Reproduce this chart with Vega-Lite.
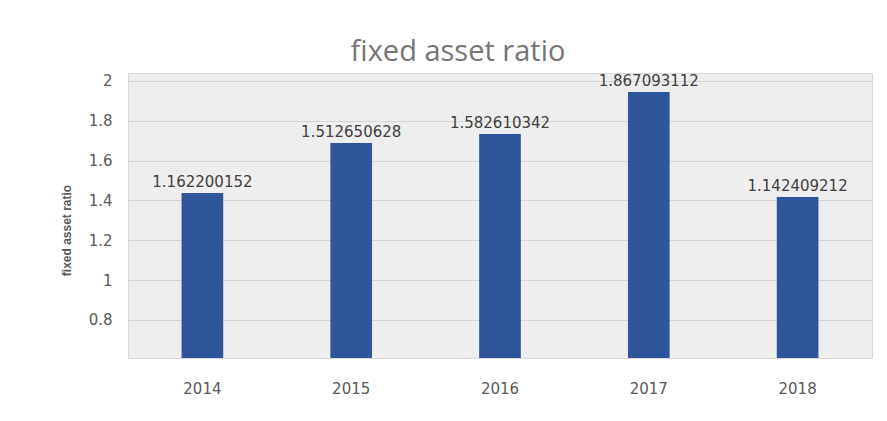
{
  "$schema": "https://vega.github.io/schema/vega-lite/v6.json",
  "autosize": {"type": "none"},
  "padding": {"left": 128, "top": 73, "right": 15, "bottom": 63},
  "width": 744,
  "height": 285,
  "background": "white",
  "title": {
    "text": "fixed asset ratio",
    "font": "Open Sans",
    "fontSize": 29,
    "fontWeight": "normal",
    "color": "#767676",
    "anchor": "middle",
    "dx": -42,
    "offset": 6
  },
  "data": {
    "values": [
      {"year": "2014", "value": 1.437, "label": "1.162200152"},
      {"year": "2015", "value": 1.688, "label": "1.512650628"},
      {"year": "2016", "value": 1.734, "label": "1.582610342"},
      {"year": "2017", "value": 1.945, "label": "1.867093112"},
      {"year": "2018", "value": 1.417, "label": "1.142409212"}
    ]
  },
  "config": {
    "view": {"fill": "#eeeeee", "stroke": "#d9d9d9"},
    "axis": {"labelFont": "DejaVu Sans", "labelColor": "#595959", "titleColor": "#595959", "domain": false, "ticks": false}
  },
  "encoding": {
    "x": {
      "field": "year",
      "type": "nominal",
      "scale": {"paddingInner": 0.72, "paddingOuter": 0.36},
      "axis": {"title": null, "labelAngle": 0, "labelFontSize": 15, "labelPadding": 23, "grid": false}
    },
    "y": {
      "field": "value",
      "type": "quantitative",
      "scale": {"domain": [0.609, 2.04], "nice": false, "zero": false},
      "axis": {
        "title": "fixed asset ratio",
        "titleFont": "Liberation Sans",
        "titleFontSize": 12,
        "titleFontWeight": "bold",
        "titlePadding": 15,
        "titleY": 157,
        "values": [0.8, 1, 1.2, 1.4, 1.6, 1.8, 2],
        "format": "~g",
        "labelFontSize": 15,
        "labelPadding": 16,
        "gridColor": "#d4d4d4",
        "gridWidth": 1
      }
    }
  },
  "layer": [
    {"mark": {"type": "bar", "color": "#2f559b", "clip": true}},
    {
      "mark": {"type": "text", "baseline": "middle", "dy": -11, "font": "DejaVu Sans", "fontSize": 15, "color": "#404040"},
      "encoding": {"text": {"field": "label"}}
    }
  ]
}
